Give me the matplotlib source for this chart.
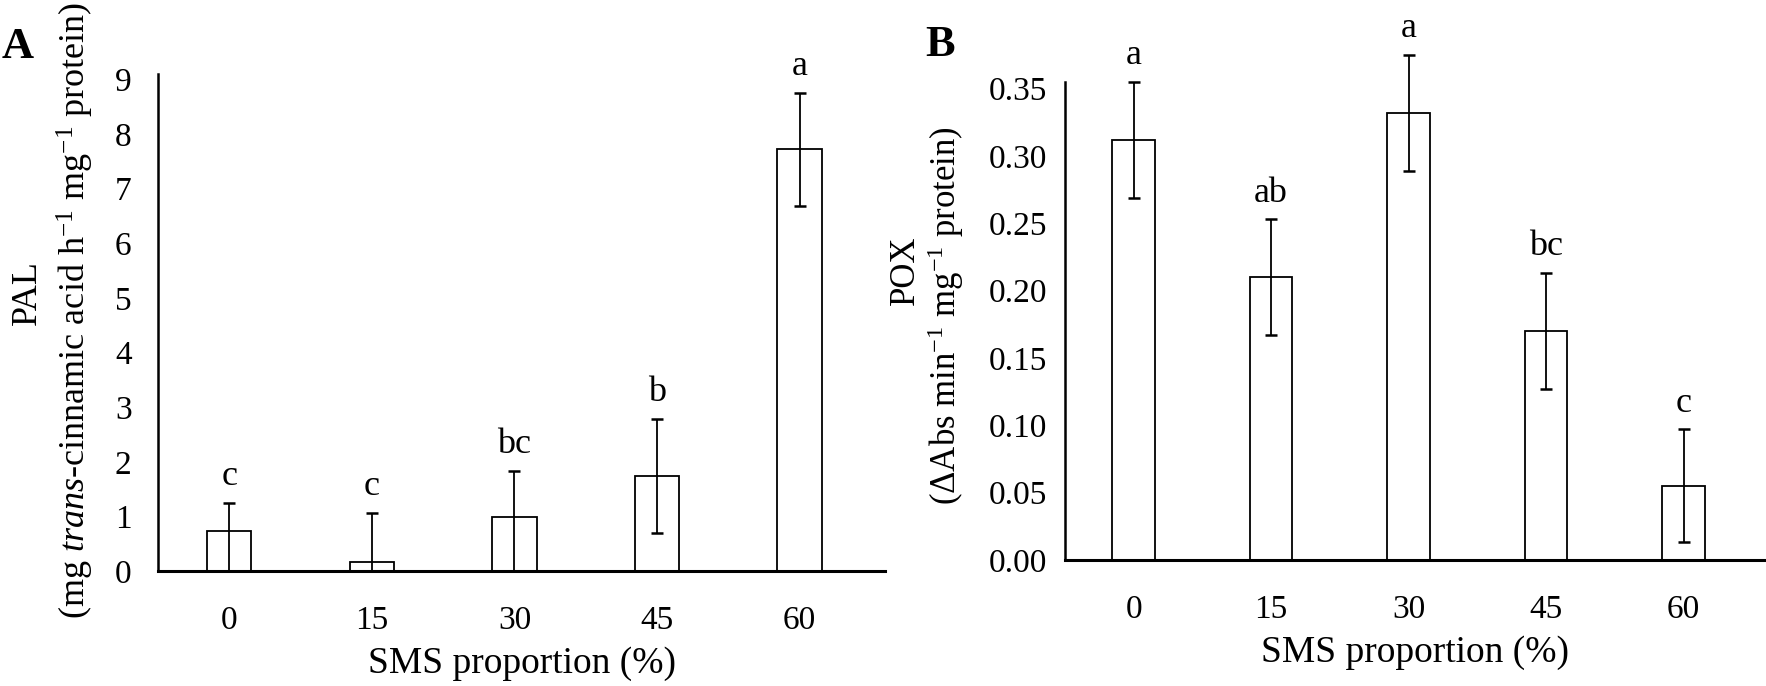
import matplotlib.pyplot as plt
import numpy as np

plt.rcParams['font.family'] = ['Liberation Serif', 'DejaVu Serif']
plt.rcParams['mathtext.fontset'] = 'custom'
plt.rcParams['mathtext.rm'] = 'Liberation Serif'
plt.rcParams['mathtext.it'] = 'Liberation Serif:italic'

# SMS proportion (%) categories
sms = ['0', '15', '30', '45', '60']

# Panel A - PAL activity
pal_mean = [0.74, 0.17, 0.99, 1.74, 7.72]
pal_err_low = [0.74, 0.17, 0.99, 1.04, 1.03]
pal_err_high = [0.51, 0.89, 0.84, 1.04, 1.03]
pal_letters = ['c', 'c', 'bc', 'b', 'a']
pal_ticks = [0, 1, 2, 3, 4, 5, 6, 7, 8, 9]

# Panel B - POX activity
pox_mean = [0.312, 0.210, 0.332, 0.170, 0.055]
pox_err = [0.043, 0.043, 0.043, 0.043, 0.042]
pox_letters = ['a', 'ab', 'a', 'bc', 'c']
pox_ticks = [0.00, 0.05, 0.10, 0.15, 0.20, 0.25, 0.30, 0.35]


def draw_panel(ax, mean, err_low, err_high, letters, ticks, ylim, fmt, ypad):
    x = np.arange(len(sms))
    ax.bar(x, mean, width=0.31, color='white', edgecolor='black', linewidth=1.3, zorder=2)
    eb = ax.errorbar(x, mean, yerr=[err_low, err_high], fmt='none', ecolor='black',
                     elinewidth=1.3, capsize=4.5, capthick=1.8, zorder=3)
    for art in list(eb.lines[1]) + list(eb.lines[2]):
        art.set_clip_on(False)
    # significance letters above the error bars
    for xi, m, e, lab in zip(x, mean, err_high, letters):
        ax.annotate(lab, (xi, m + e), xytext=(0, 7), textcoords='offset points',
                    ha='center', va='bottom', fontsize=26, annotation_clip=False)
    ax.set_xticks(x)
    ax.set_xticklabels(sms)
    ax.set_yticks(ticks)
    ax.set_yticklabels([fmt.format(t) for t in ticks])
    ax.set_ylim(*ylim)
    ax.set_xlim(-0.5, 4.6)
    for s in ['top', 'right']:
        ax.spines[s].set_visible(False)
    ax.spines['left'].set_linewidth(1.8)
    ax.spines['bottom'].set_linewidth(2.2)
    ax.tick_params(axis='both', length=0, labelsize=24)
    ax.tick_params(axis='x', pad=25)
    ax.tick_params(axis='y', pad=ypad)
    ax.set_xlabel('SMS proportion (%)', fontsize=27, labelpad=7)


fig = plt.figure(figsize=(17.66, 6.86), dpi=100)
axA = fig.add_axes([0.0895, 0.1676, 0.4117, 0.7245])
axB = fig.add_axes([0.603, 0.1837, 0.397, 0.6968])

draw_panel(axA, pal_mean, pal_err_low, pal_err_high, pal_letters, pal_ticks, (0, 9.1), '{:d}', 19)
draw_panel(axB, pox_mean, pox_err, pox_err, pox_letters, pox_ticks, (0, 0.355), '{:.2f}', 13)

# y-axis titles, two lines each
fig.text(0.0155, 0.573, 'PAL', rotation=90, ha='center', va='center', fontsize=26)
fig.text(0.0425, 0.548, '(mg $\\mathit{trans}$-cinnamic acid h$^{-1}$ mg$^{-1}$ protein)',
         rotation=90, ha='center', va='center', fontsize=26)
fig.text(0.5125, 0.606, 'POX', rotation=90, ha='center', va='center', fontsize=25)
fig.text(0.5355, 0.54, '(\u0394Abs min$^{-1}$ mg$^{-1}$ protein)',
         rotation=90, ha='center', va='center', fontsize=25)

# panel letters
fig.text(0.001, 0.931, 'A', fontsize=32, fontweight='bold', va='center')
fig.text(0.524, 0.934, 'B', fontsize=32, fontweight='bold', va='center')

fig.savefig('out.png', dpi=100)
